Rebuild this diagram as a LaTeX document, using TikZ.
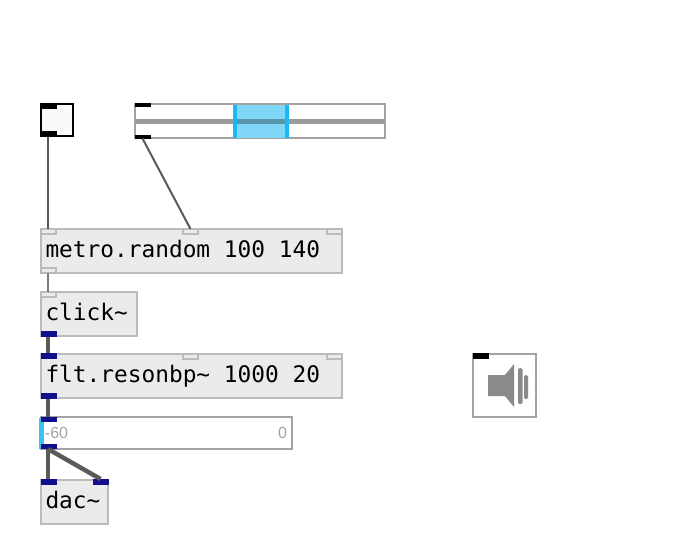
\documentclass[tikz,border=0pt]{standalone}
\usepackage{fontspec}
\setmainfont{Liberation Sans}
\setmonofont{DejaVu Sans Mono}
\definecolor{objfill}{HTML}{EBEBEB}
\definecolor{objline}{HTML}{BBBBBB}
\definecolor{uiline}{HTML}{A3A3A3}
\definecolor{sigblue}{HTML}{10108F}
\definecolor{selfill}{HTML}{7FD6F7}
\definecolor{seledge}{HTML}{1AB8F5}
\definecolor{wiregray}{HTML}{5A5A5A}
\begin{document}
\begin{tikzpicture}[x=1pt,y=-1pt,inner sep=0pt,outer sep=0pt,
    obj box/.style={draw=objline,fill=objfill,line width=2pt,anchor=north west,minimum height=44pt,text height=18pt,text depth=6pt,inner xsep=4.5pt,align=flush left,font=\ttfamily\fontsize{22.8}{24}\selectfont},
    ui box/.style={draw=uiline,fill=white,line width=2pt,anchor=north west},
    port/.style={anchor=north west,minimum width=16pt,minimum height=5.5pt,fill=#1},
    gray port/.style={port=objfill,draw=objline,line width=1.2pt,minimum width=15pt,minimum height=5pt},
    wire/.style={draw=wiregray,line width=2pt},
    sig wire/.style={draw=wiregray,line width=4.5pt}]
    \useasboundingbox (0,0) rectangle (673,557);

    % toggle and slider
    \node[ui box,draw=black,fill=white!98!black,minimum width=31.5pt,minimum height=31.5pt] at (41,104) (toggle) {};
    \node[port=black,minimum height=6pt] at (40.5,103) (togglein) {};
    \node[port=black,minimum height=6pt] at (40.5,130.5) (toggleout) {};
    \node[ui box,minimum width=250pt,minimum height=34pt] at (135,104) (slider) {};
    \node[anchor=north west,fill=selfill,minimum width=52pt,minimum height=33pt] at (235,105) (sliderrange) {};
    \node[anchor=north west,fill=uiline!95!black,minimum width=250pt,minimum height=4.5pt] at (135,119) (sliderbar) {};
    \node[anchor=north west,fill=selfill!70!black,minimum width=52pt,minimum height=4.5pt] at (235,119) (sliderknob) {};
    \draw[seledge,line width=3.5pt] (sliderrange.north west) -- (sliderrange.south west);
    \draw[seledge,line width=3.5pt] (sliderrange.north east) -- (sliderrange.south east);
    \node[port=black,minimum height=4pt] at (134.5,103) (sliderin) {};
    \node[port=black,minimum height=4pt] at (134.5,134.5) (sliderout) {};

    % objects
    \node[obj box,text width=292pt] at (41,229) (metro) {metro.random 100 140};
    \node[gray port] at (41,229) (metroa) {};
    \node[gray port] at (183,229) (metrob) {};
    \node[gray port] at (327,229) (metroc) {};
    \node[gray port] at (41,268) (metroout) {};

    \node[obj box,text width=87pt] at (41,292) (click) {click\textasciitilde};
    \node[gray port] at (41,292) (clickin) {};
    \node[port=sigblue] at (40.5,331) (clickout) {};

    \node[obj box,text width=292pt] at (41,354) (flt) {flt.resonbp\textasciitilde{} 1000 20};
    \node[port=sigblue] at (40.5,353) (flta) {};
    \node[gray port] at (183,354) (fltb) {};
    \node[gray port] at (327,354) (fltc) {};
    \node[port=sigblue] at (40.5,393) (fltout) {};

    % gain
    \node[ui box,minimum width=251pt,minimum height=32pt] at (41,417) (gain) {};
    \node[anchor=north west,fill=seledge!85!white,minimum width=5pt,minimum height=31pt] at (38.5,417.5) (gainlevel) {};
    \node[anchor=west,text=uiline,font=\fontsize{16}{18}\selectfont] at (45,433) (gainmin) {-60};
    \node[anchor=east,text=uiline,font=\fontsize{16}{18}\selectfont] at (287,433) (gainmax) {0};
    \node[port=sigblue] at (40.5,416.5) (gainin) {};
    \node[port=sigblue] at (40.5,443.5) (gainout) {};

    \node[obj box,text width=58pt] at (41,480) (dac) {dac\textasciitilde};
    \node[port=sigblue] at (40.5,479) (dacl) {};
    \node[port=sigblue] at (92.5,479) (dacr) {};

    % speaker
    \node[ui box,minimum width=63pt,minimum height=63pt] at (473,354) (speaker) {};
    \node[port=black] at (472.5,353) (speakerin) {};
    \fill[uiline!85!black] (488,375) -- (505,375) -- (514,364) -- (514,407) -- (505,396) -- (488,396) -- cycle;
    \fill[uiline!85!black,rounded corners=1.5pt] (518,368) rectangle (522.5,404);
    \fill[uiline!85!black,rounded corners=1.5pt] (524,375) rectangle (528,399);

    % wires
    \path[wire] ([xshift=-.5pt]toggleout.south) edge ([xshift=-.5pt]metroa.north);
    \path[wire] (sliderout.south) edge (metrob.north);
    \path[wire,draw=wiregray!80] ([xshift=-.5pt]metroout.south) edge ([xshift=-.5pt]clickin.north);
    \path[sig wire] ([xshift=-.5pt]clickout.south) edge ([xshift=-.5pt]flta.north);
    \path[sig wire] ([xshift=-.5pt]fltout.south) edge ([xshift=-.5pt]gainin.north);
    \path[sig wire] ([xshift=-.5pt]gainout.south) edge ([xshift=-.5pt]dacl.north);
    \path[sig wire] ([xshift=-.5pt]gainout.south) edge (dacr.north);
\end{tikzpicture}
\end{document}
